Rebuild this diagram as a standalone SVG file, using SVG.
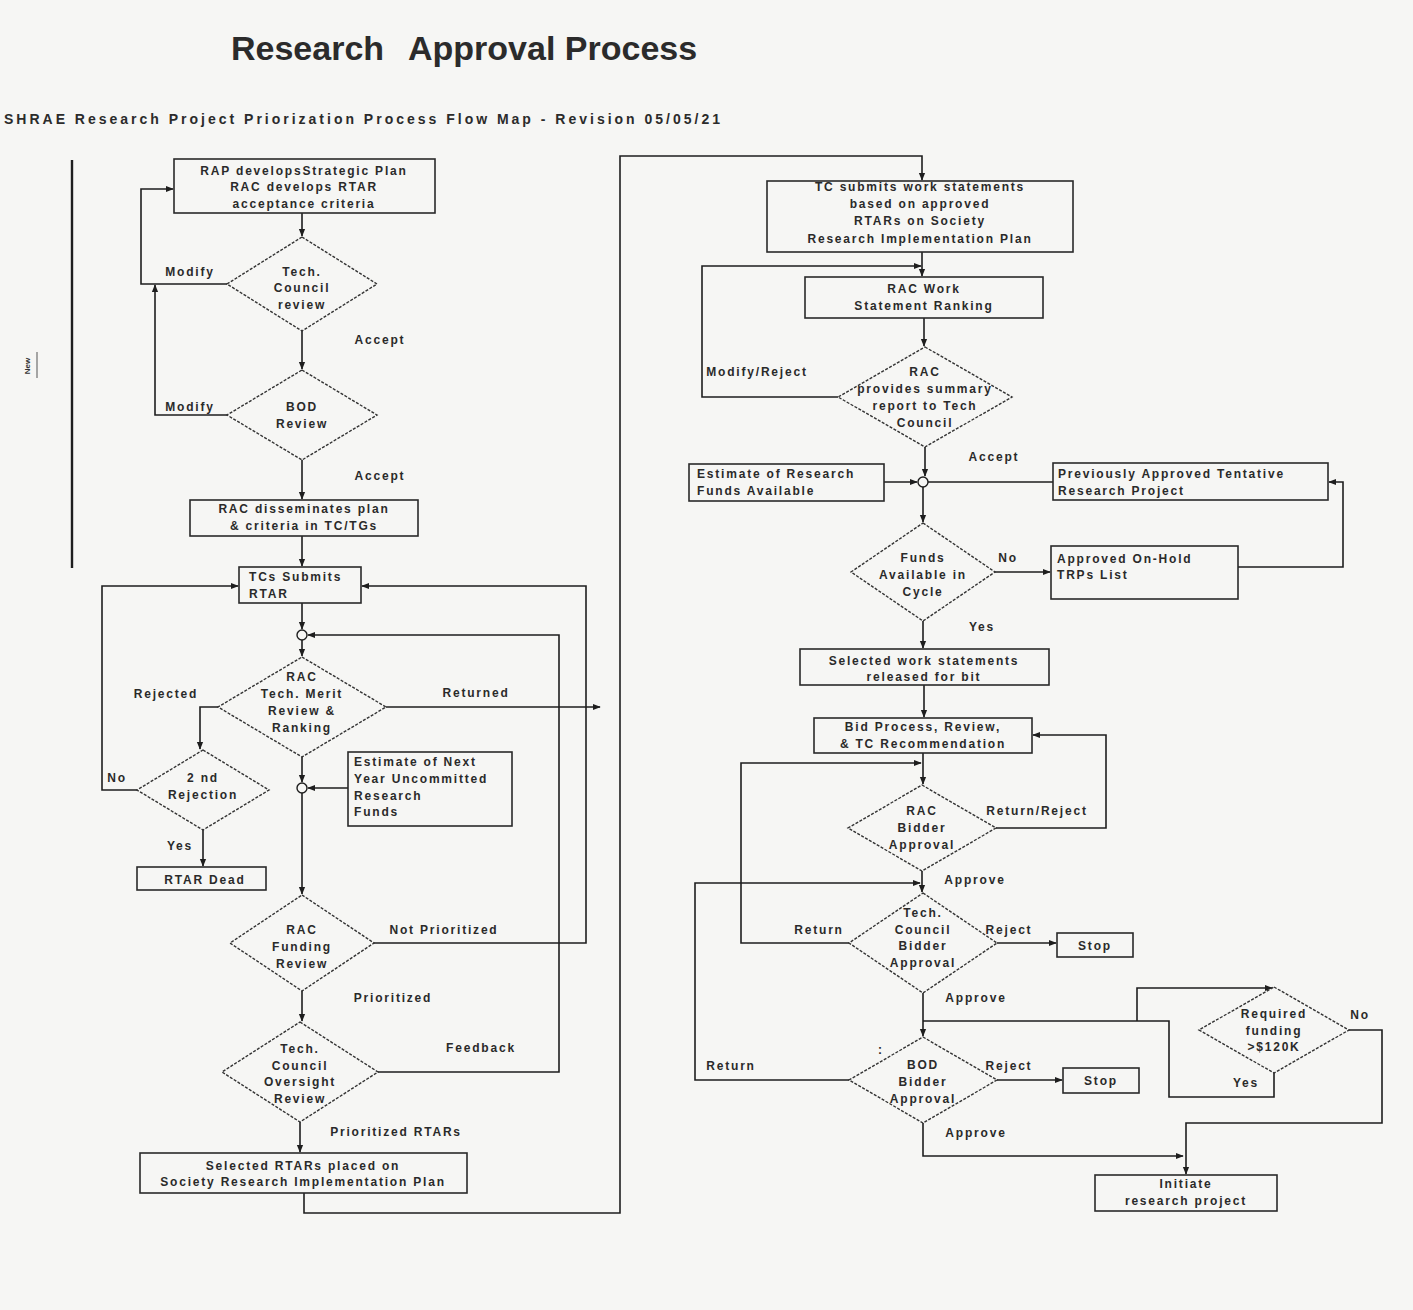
<svg xmlns="http://www.w3.org/2000/svg" width="1413" height="1310" viewBox="0 0 1413 1310">
<style>
.ln{fill:none;stroke:#1e1e1e;stroke-width:1.6}
.box{fill:none;stroke:#2a2a2a;stroke-width:1.6}
.dia{fill:none;stroke:#333;stroke-width:1.4;stroke-dasharray:3 1.5}
.t{font-family:"Liberation Sans",Arial,sans-serif;font-size:12px;font-weight:bold;fill:#2a2a2a;letter-spacing:1.8px;text-anchor:middle}
.l{text-anchor:start}
.jn{fill:#f6f6f4;stroke:#1e1e1e;stroke-width:1.4}
</style>
<defs>
<marker id="ah" viewBox="0 0 10 10" refX="9" refY="5" markerWidth="8" markerHeight="8" markerUnits="userSpaceOnUse" orient="auto"><path d="M0,1 L10,5 L0,9 z" fill="#1e1e1e"/></marker>
</defs>
<rect x="0" y="0" width="1413" height="1310" fill="#f6f6f4"/>
<g id="title">
<text x="231" y="60" style="font-family:'Liberation Sans',Arial,sans-serif;font-size:34px;font-weight:bold;fill:#2b2b2b">Research</text>
<text x="408" y="60" style="font-family:'Liberation Sans',Arial,sans-serif;font-size:34px;font-weight:bold;fill:#2b2b2b">Approval Process</text>
<text x="4" y="124" textLength="716" lengthAdjust="spacing" style="font-family:'Liberation Sans',Arial,sans-serif;font-size:14px;font-weight:bold;fill:#2b2b2b">SHRAE  Research Project Priorization Process Flow Map - Revision 05/05/21</text>
</g>
<g id="margin">
<line x1="72" y1="160" x2="72" y2="568" stroke="#1e1e1e" stroke-width="2.4"/>
<text transform="translate(30,366) rotate(-90)" style="font-family:'Liberation Sans',Arial,sans-serif;font-size:8px;font-weight:bold;fill:#333;text-anchor:middle">New</text>
<line x1="37" y1="352" x2="37" y2="378" stroke="#555" stroke-width="1"/>
</g>
<g id="connectors">
<path class="ln" d="M302,213 V236" marker-end="url(#ah)"/>
<path class="ln" d="M227,284 H141 V189 H173" marker-end="url(#ah)"/>
<path class="ln" d="M227,415 H155 V285" marker-end="url(#ah)"/>
<path class="ln" d="M302,331 V369" marker-end="url(#ah)"/>
<path class="ln" d="M302,460 V499" marker-end="url(#ah)"/>
<path class="ln" d="M302,536 V566" marker-end="url(#ah)"/>
<path class="ln" d="M302,603 V629" marker-end="url(#ah)"/>
<path class="ln" d="M302,640 V656" marker-end="url(#ah)"/>
<path class="ln" d="M386,707 H600" marker-end="url(#ah)"/>
<path class="ln" d="M218,707 H200 V749" marker-end="url(#ah)"/>
<path class="ln" d="M137,790 H102 V586 H238" marker-end="url(#ah)"/>
<path class="ln" d="M203,830 V866" marker-end="url(#ah)"/>
<path class="ln" d="M302,757 V782" marker-end="url(#ah)"/>
<path class="ln" d="M348,788 H308" marker-end="url(#ah)"/>
<path class="ln" d="M302,793 V894" marker-end="url(#ah)"/>
<path class="ln" d="M374,943 H586 V586 H362" marker-end="url(#ah)"/>
<path class="ln" d="M302,991 V1021" marker-end="url(#ah)"/>
<path class="ln" d="M378,1072 H559 V635 H308" marker-end="url(#ah)"/>
<path class="ln" d="M300,1122 V1152" marker-end="url(#ah)"/>
<path class="ln" d="M304,1193 V1213 H620 V156 H922 V180" marker-end="url(#ah)"/>
<path class="ln" d="M922,252 V276" marker-end="url(#ah)"/>
<path class="ln" d="M924,318 V346" marker-end="url(#ah)"/>
<path class="ln" d="M838,397 H702 V266 H921" marker-end="url(#ah)"/>
<path class="ln" d="M925,447 V476" marker-end="url(#ah)"/>
<path class="ln" d="M884,482 H917" marker-end="url(#ah)"/>
<path class="ln" d="M928,482 H1053"/>
<path class="ln" d="M923,487 V522" marker-end="url(#ah)"/>
<path class="ln" d="M995,572 H1050" marker-end="url(#ah)"/>
<path class="ln" d="M1238,567 H1343 V482 H1329" marker-end="url(#ah)"/>
<path class="ln" d="M923,621 V648" marker-end="url(#ah)"/>
<path class="ln" d="M924,685 V717" marker-end="url(#ah)"/>
<path class="ln" d="M923,753 V784" marker-end="url(#ah)"/>
<path class="ln" d="M996,828 H1106 V735 H1033" marker-end="url(#ah)"/>
<path class="ln" d="M849,943 H741 V763 H921" marker-end="url(#ah)"/>
<path class="ln" d="M922,871 V892" marker-end="url(#ah)"/>
<path class="ln" d="M849,1080 H695 V883 H920" marker-end="url(#ah)"/>
<path class="ln" d="M997,943 H1056" marker-end="url(#ah)"/>
<path class="ln" d="M923,993 V1036" marker-end="url(#ah)"/>
<path class="ln" d="M1137,1021 V988 H1272" marker-end="url(#ah)"/>
<path class="ln" d="M1349,1030 H1382 V1123 H1186 V1174" marker-end="url(#ah)"/>
<path class="ln" d="M1274,1073 V1097 H1169 V1021 H923"/>
<path class="ln" d="M997,1080 H1062" marker-end="url(#ah)"/>
<path class="ln" d="M923,1123 V1156 H1183" marker-end="url(#ah)"/>
<circle class="jn" cx="302" cy="635" r="5"/>
<circle class="jn" cx="302" cy="788" r="5"/>
<circle class="jn" cx="923" cy="482" r="5"/>
</g>
<g id="labels" class="t">
<text class="t" x="190" y="276">Modify</text>
<text class="t" x="380" y="344">Accept</text>
<text class="t" x="190" y="411">Modify</text>
<text class="t" x="380" y="480">Accept</text>
<text class="t" x="166" y="698">Rejected</text>
<text class="t" x="476" y="697">Returned</text>
<text class="t" x="117" y="782">No</text>
<text class="t" x="180" y="850">Yes</text>
<text class="t" x="444" y="934">Not Prioritized</text>
<text class="t" x="393" y="1002">Prioritized</text>
<text class="t" x="481" y="1052">Feedback</text>
<text class="t" x="396" y="1136">Prioritized RTARs</text>
<text class="t" x="757" y="376">Modify/Reject</text>
<text class="t" x="994" y="461">Accept</text>
<text class="t" x="1008" y="562">No</text>
<text class="t" x="982" y="631">Yes</text>
<text class="t" x="1037" y="815">Return/Reject</text>
<text class="t" x="975" y="884">Approve</text>
<text class="t" x="819" y="934">Return</text>
<text class="t" x="1009" y="934">Reject</text>
<text class="t" x="976" y="1002">Approve</text>
<text class="t" x="1360" y="1019">No</text>
<text class="t" x="1246" y="1087">Yes</text>
<text class="t" x="731" y="1070">Return</text>
<text class="t" x="1009" y="1070">Reject</text>
<text class="t" x="881" y="1054">:</text>
<text class="t" x="976" y="1137">Approve</text>
</g>
<g id="n_strategic"><rect class="box" x="174" y="159" width="261" height="54"/>
<text class="t" x="304" y="175">RAP developsStrategic Plan</text><text class="t" x="304" y="191">RAC develops RTAR</text><text class="t" x="304" y="208">acceptance criteria</text></g>
<g id="n_tcreview"><polygon class="dia" points="302,237 377,284 302,331 227,284"/>
<text class="t" x="302" y="276">Tech.</text><text class="t" x="302" y="292">Council</text><text class="t" x="302" y="309">review</text></g>
<g id="n_bodreview"><polygon class="dia" points="302,370 377,415 302,460 227,415"/>
<text class="t" x="302" y="411">BOD</text><text class="t" x="302" y="428">Review</text></g>
<g id="n_dissem"><rect class="box" x="190" y="500" width="228" height="36"/>
<text class="t" x="304" y="513">RAC disseminates plan</text><text class="t" x="304" y="530">&amp; criteria in TC/TGs</text></g>
<g id="n_tcsubmit"><rect class="box" x="239" y="567" width="122" height="36"/>
<text class="t l" x="249" y="581">TCs Submits</text><text class="t l" x="249" y="598">RTAR</text></g>
<g id="n_merit"><polygon class="dia" points="302,657 386,707 302,757 218,707"/>
<text class="t" x="302" y="681">RAC</text><text class="t" x="302" y="698">Tech. Merit</text><text class="t" x="302" y="715">Review &amp;</text><text class="t" x="302" y="732">Ranking</text></g>
<g id="n_2nd"><polygon class="dia" points="203,750 269,790 203,830 137,790"/>
<text class="t" x="203" y="782">2 nd</text><text class="t" x="203" y="799">Rejection</text></g>
<g id="n_dead"><rect class="box" x="137" y="867" width="129" height="23"/>
<text class="t" x="205" y="884">RTAR Dead</text></g>
<g id="n_estnext"><rect class="box" x="348" y="752" width="164" height="74"/>
<text class="t l" x="354" y="766">Estimate of Next</text><text class="t l" x="354" y="783">Year Uncommitted</text><text class="t l" x="354" y="800">Research</text><text class="t l" x="354" y="816">Funds</text></g>
<g id="n_funding"><polygon class="dia" points="302,895 374,943 302,991 230,943"/>
<text class="t" x="302" y="934">RAC</text><text class="t" x="302" y="951">Funding</text><text class="t" x="302" y="968">Review</text></g>
<g id="n_oversight"><polygon class="dia" points="300,1022 378,1072 300,1122 222,1072"/>
<text class="t" x="300" y="1053">Tech.</text><text class="t" x="300" y="1070">Council</text><text class="t" x="300" y="1086">Oversight</text><text class="t" x="300" y="1103">Review</text></g>
<g id="n_selected"><rect class="box" x="140" y="1153" width="327" height="40"/>
<text class="t" x="303" y="1170">Selected RTARs placed on</text><text class="t" x="303" y="1186">Society Research Implementation Plan</text></g>
<g id="n_tcwork"><rect class="box" x="767" y="181" width="306" height="71"/>
<text class="t" x="920" y="191">TC submits work statements</text><text class="t" x="920" y="208">based on approved</text><text class="t" x="920" y="225">RTARs on Society</text><text class="t" x="920" y="243">Research Implementation Plan</text></g>
<g id="n_racwork"><rect class="box" x="805" y="277" width="238" height="41"/>
<text class="t" x="924" y="293">RAC Work</text><text class="t" x="924" y="310">Statement Ranking</text></g>
<g id="n_summary"><polygon class="dia" points="925,347 1012,397 925,447 838,397"/>
<text class="t" x="925" y="376">RAC</text><text class="t" x="925" y="393">provides summary</text><text class="t" x="925" y="410">report to Tech</text><text class="t" x="925" y="427">Council</text></g>
<g id="n_estres"><rect class="box" x="689" y="464" width="195" height="37"/>
<text class="t l" x="697" y="478">Estimate of Research</text><text class="t l" x="697" y="495">Funds Available</text></g>
<g id="n_prev"><rect class="box" x="1053" y="463" width="275" height="37"/>
<text class="t l" x="1058" y="478">Previously Approved Tentative</text><text class="t l" x="1058" y="495">Research Project</text></g>
<g id="n_funds"><polygon class="dia" points="923,523 995,572 923,621 851,572"/>
<text class="t" x="923" y="562">Funds</text><text class="t" x="923" y="579">Available in</text><text class="t" x="923" y="596">Cycle</text></g>
<g id="n_onhold"><rect class="box" x="1051" y="546" width="187" height="53"/>
<text class="t l" x="1057" y="563">Approved On-Hold</text><text class="t l" x="1057" y="579">TRPs List</text></g>
<g id="n_selwork"><rect class="box" x="800" y="649" width="249" height="36"/>
<text class="t" x="924" y="665">Selected work statements</text><text class="t" x="924" y="681">released for bit</text></g>
<g id="n_bid"><rect class="box" x="814" y="718" width="218" height="35"/>
<text class="t" x="923" y="731">Bid Process, Review,</text><text class="t" x="923" y="748">&amp; TC Recommendation</text></g>
<g id="n_racbid"><polygon class="dia" points="922,785 996,828 922,871 848,828"/>
<text class="t" x="922" y="815">RAC</text><text class="t" x="922" y="832">Bidder</text><text class="t" x="922" y="849">Approval</text></g>
<g id="n_tcbid"><polygon class="dia" points="923,893 997,943 923,993 849,943"/>
<text class="t" x="923" y="917">Tech.</text><text class="t" x="923" y="934">Council</text><text class="t" x="923" y="950">Bidder</text><text class="t" x="923" y="967">Approval</text></g>
<g id="n_stop1"><rect class="box" x="1057" y="933" width="76" height="24"/>
<text class="t" x="1095" y="950">Stop</text></g>
<g id="n_required"><polygon class="dia" points="1274,987 1349,1030 1274,1073 1199,1030"/>
<text class="t" x="1274" y="1018">Required</text><text class="t" x="1274" y="1035">funding</text><text class="t" x="1274" y="1051">&gt;$120K</text></g>
<g id="n_bodbid"><polygon class="dia" points="923,1037 997,1080 923,1123 849,1080"/>
<text class="t" x="923" y="1069">BOD</text><text class="t" x="923" y="1086">Bidder</text><text class="t" x="923" y="1103">Approval</text></g>
<g id="n_stop2"><rect class="box" x="1063" y="1068" width="76" height="25"/>
<text class="t" x="1101" y="1085">Stop</text></g>
<g id="n_initiate"><rect class="box" x="1095" y="1175" width="182" height="36"/>
<text class="t" x="1186" y="1188">Initiate</text><text class="t" x="1186" y="1205">research project</text></g>
</svg>
